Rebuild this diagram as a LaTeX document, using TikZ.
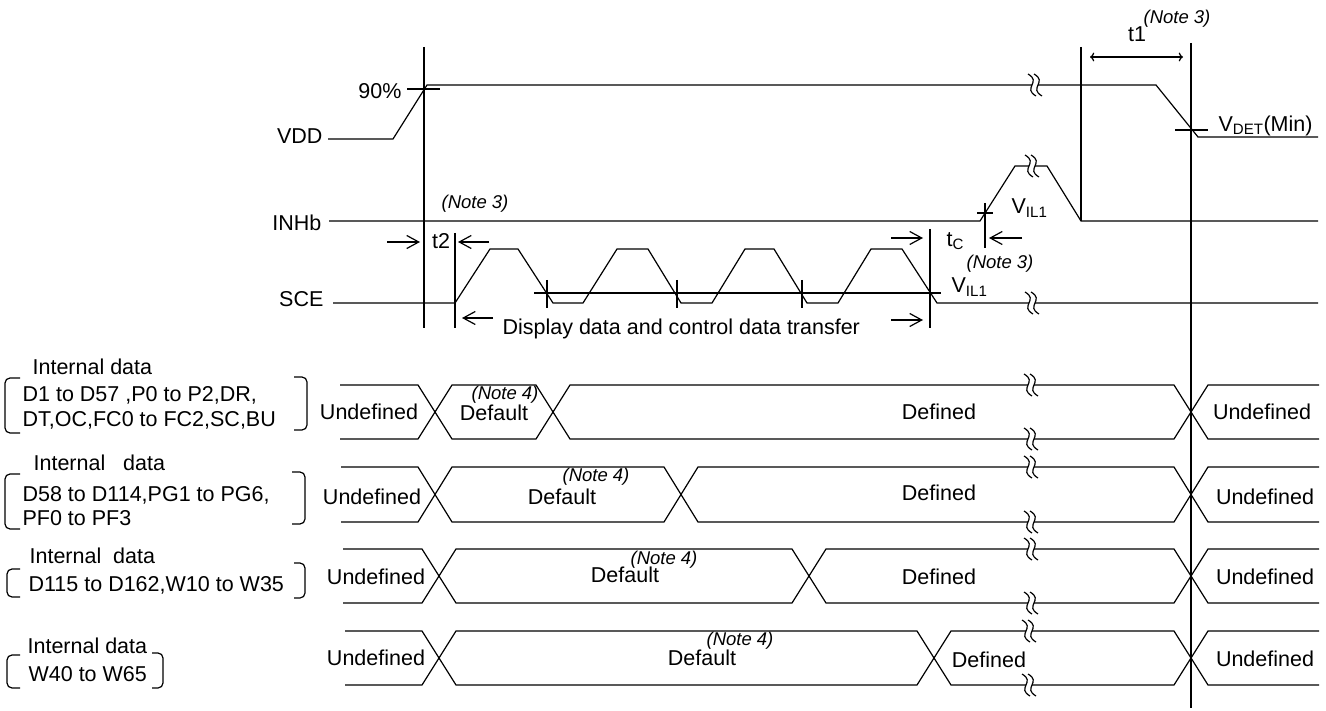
\documentclass[tikz,border=0pt]{standalone}
\usepackage{fontspec}
\setmainfont{Liberation Sans}
\usetikzlibrary{arrows.meta}
\begin{document}
\begin{tikzpicture}
	[x=1pt,y=-1pt,line width=1.2pt,
	 txt/.style={inner sep=0pt,font=\fontsize{21.5}{24}\selectfont},
	 note/.style={inner sep=0pt,font=\fontsize{18.5}{20}\selectfont\itshape},
	 dim/.style={-{Straight Barb[length=12pt,width=13pt]}},
	 brace/.style={rounded corners=5pt},
	 brk/.pic={
		\draw[white,line width=5pt] (-4,-11) .. controls (10,-3) and (-10,3) .. (4,11);
		\draw (-7,-11) .. controls (7,-3) and (-13,3) .. (1,11);
		\draw (-1,-11) .. controls (13,-3) and (-7,3) .. (7,11);}]
	\useasboundingbox (0,0) rectangle (1326,711);
	% timing lines
	\draw (424,47) -- (424,328);
	\draw (455,233) -- (455,328);
	\draw (930,229) -- (930,328);
	\draw (1081,47) -- (1081,221);
	\draw (1191,43) -- (1191,708);
	% VDD
	\draw (328,139) -- (393,139) -- (427,85) -- (1156,85) -- (1198,137) -- (1318,137);
	\draw (407,89) -- (440,89);
	\draw (1175,130) -- (1208,130);
	\pic at (1035,85) {brk};
	\node[txt,anchor=base east] (vdd) at (323,143.5) {VDD};
	\node[txt,anchor=base east] (pct) at (402,99) {90\%};
	\node[txt,anchor=base west] (vdet) at (1218,131.5) {V\textsubscript{DET}(Min)};
	\draw[dim,<->] (1090,57) -- (1183,57);
	\node[txt,anchor=base] (t1) at (1137,41.5) {t1};
	\node[note] (n3a) at (1177,19) {(Note 3)};
	% INHb
	\draw (329,221) -- (980,221) -- (1015,166) -- (1047,166) -- (1081,221) -- (1318,221);
	\pic at (1032,166) {brk};
	\draw (977,213) -- (993,213);
	\draw (985,203) -- (985,248);
	\node[txt,anchor=base east] (inhb) at (322,231) {INHb};
	\node[txt,anchor=base west] (vil1a) at (1011,214) {V\textsubscript{IL1}};
	\node[note] (n3b) at (475,204) {(Note 3)};
	% SCE
	\draw (333,303) -- (455,303) -- (490,249) -- (518,249) -- (553,303) -- (583,303)
		-- (617,249) -- (648,249) -- (681,303) -- (712,303) -- (745,249) -- (774,249)
		-- (807,303) -- (838,303) -- (871,249) -- (902,249) -- (937,303) -- (1318,303);
	\draw (534,293) -- (941,293);
	\draw (547,280) -- (547,308);
	\draw (677,280) -- (677,308);
	\draw (802,280) -- (802,308);
	\pic at (1032,303) {brk};
	\node[txt,anchor=base east] (sce) at (324,307) {SCE};
	\node[txt,anchor=base west] (vil1b) at (951,293) {V\textsubscript{IL1}};
	\draw[dim] (387,242) -- (420,242);
	\draw[dim] (489,242) -- (458,242);
	\node[txt,anchor=base] (t2) at (441,249) {t2};
	\draw[dim] (891,238) -- (923,238);
	\draw[dim] (1022,238) -- (989,238);
	\node[txt,anchor=base west] (tc) at (946,246.5) {t\textsubscript{C}};
	\node[note] (n3c) at (1000,264) {(Note 3)};
	\draw[dim] (493,318) -- (462,318);
	\draw[dim] (891,320) -- (923,320);
	\node[txt,anchor=base west] (xfer) at (502,335) {Display data and control data transfer};
	% internal data 1
	\draw (340,385) -- (418,385) -- (452,439) -- (536,439) -- (570,385) -- (1174,385) -- (1208,439) -- (1319,439);
	\draw (340,439) -- (418,439) -- (452,385) -- (536,385) -- (570,439) -- (1174,439) -- (1208,385) -- (1319,385);
	\pic at (1031,385) {brk};
	\pic at (1031,439) {brk};
	\node[txt] (u1a) at (369,412) {Undefined};
	\node[txt] (d1) at (494,413) {Default};
	\node[note] (n4a) at (505,395) {(Note 4)};
	\node[txt] (f1) at (939,412) {Defined};
	\node[txt] (u1b) at (1262,412) {Undefined};
	\node[txt,anchor=base west] (l1a) at (32,375) {Internal data};
	\node[txt,anchor=base west] (l1b) at (22,401.5) {D1 to D57 ,P0 to P2,DR,};
	\node[txt,anchor=base west] (l1c) at (22,426.5) {DT,OC,FC0 to FC2,SC,BU};
	\draw[brace] (20,378) -- (5,378) -- (5,433) -- (20,433);
	\draw[brace] (294,377) -- (307,377) -- (307,430) -- (294,430);
	% internal data 2
	\draw (341,467) -- (418,467) -- (452,522) -- (664,522) -- (698,467) -- (1174,467) -- (1208,522) -- (1319,522);
	\draw (341,522) -- (418,522) -- (452,467) -- (664,467) -- (698,522) -- (1174,522) -- (1208,467) -- (1319,467);
	\pic at (1031,467) {brk};
	\pic at (1031,522) {brk};
	\node[txt] (u2a) at (372,497) {Undefined};
	\node[txt] (d2) at (562,497) {Default};
	\node[note] (n4b) at (596,477) {(Note 4)};
	\node[txt] (f2) at (939,493) {Defined};
	\node[txt] (u2b) at (1265,497) {Undefined};
	\node[txt,anchor=base west] (l2a) at (33,470) {Internal\ \ \ data};
	\node[txt,anchor=base west] (l2b) at (22,501.5) {D58 to D114,PG1 to PG6,};
	\node[txt,anchor=base west] (l2c) at (22,525) {PF0 to PF3};
	\draw[brace] (20,474) -- (5,474) -- (5,529) -- (20,529);
	\draw[brace] (292,472) -- (305,472) -- (305,524) -- (292,524);
	% internal data 3
	\draw (343,549) -- (422,549) -- (456,603) -- (792,603) -- (826,549) -- (1174,549) -- (1208,603) -- (1319,603);
	\draw (343,603) -- (422,603) -- (456,549) -- (792,549) -- (826,603) -- (1174,603) -- (1208,549) -- (1319,549);
	\pic at (1031,549) {brk};
	\pic at (1031,603) {brk};
	\node[txt] (u3a) at (376,577) {Undefined};
	\node[txt] (d3) at (625,575) {Default};
	\node[note] (n4c) at (664,560) {(Note 4)};
	\node[txt] (f3) at (939,577) {Defined};
	\node[txt] (u3b) at (1265,577) {Undefined};
	\node[txt,anchor=base west] (l3a) at (29,563) {Internal\ \ data};
	\node[txt,anchor=base west] (l3b) at (28,591) {D115 to D162,W10 to W35};
	\draw[brace] (20,569) -- (7,569) -- (7,597) -- (20,597);
	\draw[brace] (294,563) -- (305,563) -- (305,598) -- (294,598);
	% internal data 4
	\draw (345,631) -- (422,631) -- (456,685) -- (917,685) -- (951,631) -- (1174,631) -- (1208,685) -- (1319,685);
	\draw (345,685) -- (422,685) -- (456,631) -- (917,631) -- (951,685) -- (1174,685) -- (1208,631) -- (1319,631);
	\pic at (1029,631) {brk};
	\pic at (1029,685) {brk};
	\node[txt] (u4a) at (376,658) {Undefined};
	\node[txt] (d4) at (702,658) {Default};
	\node[note] (n4d) at (740,641) {(Note 4)};
	\node[txt] (f4) at (989,660) {Defined};
	\node[txt] (u4b) at (1265,659) {Undefined};
	\node[txt,anchor=base west] (l4a) at (27,653) {Internal data};
	\node[txt,anchor=base west] (l4b) at (28,681.5) {W40 to W65};
	\draw[brace] (20,655) -- (7,655) -- (7,688) -- (20,688);
	\draw[brace] (152,653) -- (163,653) -- (163,688) -- (152,688);
\end{tikzpicture}
\end{document}
